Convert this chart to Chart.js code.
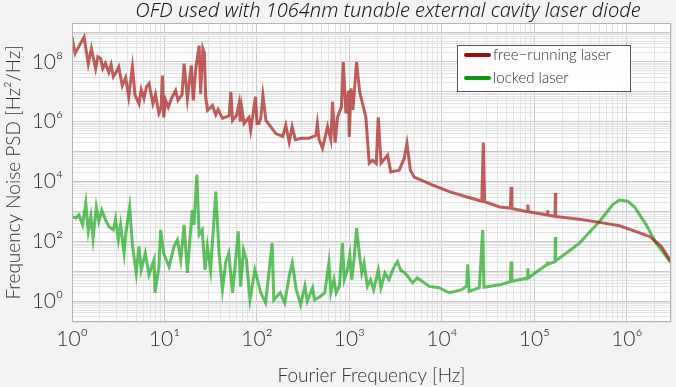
<!doctype html>
<html>

<head>
	<title>OFD frequency noise</title>
	<script src="https://cdn.jsdelivr.net/npm/chart.js@4.4.1/dist/chart.umd.min.js"></script>
	<style>
		html, body { margin: 0; padding: 0; background: #f3f3f3; }
	</style>
</head>

<body>
	<div id="canvas-holder">
		<canvas id="chart-area" width="676" height="387"></canvas>
	</div>

	<script>
		const chartTitle = 'OFD used with 1064nm tunable external cavity laser diode';
		const xTitle = 'Fourier Frequency [Hz]';
		const yTitle = 'Frequency Noise PSD [Hz\u00b2/Hz]';
		const seriesNames = ['free\u2212running laser', 'locked laser'];

		// free-running laser: frequency [Hz] and PSD [Hz^2/Hz]
		const freeFreq = [1, 1.08, 1.2, 1.35, 1.5, 1.62, 1.8, 1.9, 2.04, 2.15,
			2.3, 2.5, 2.65, 2.8, 3.0, 3.2, 3.5, 3.8, 4.1, 4.5,
			4.8, 5.3, 5.6, 6.0, 6.4, 6.8, 7.5, 8.0, 8.7, 9.2,
			9.5, 9.8, 10.3, 11, 12, 13.2, 14, 15.5, 16.3, 17.7,
			19.5, 20.5, 21.8, 23.7, 24.6, 26, 27, 27.9, 29.2, 33,
			35.9, 38, 42.4, 50, 52.2, 54.5, 60, 64, 66, 68,
			72.6, 82, 85.6, 96.5, 100, 105, 110, 116, 125, 140,
			160, 190, 205, 223, 240, 260, 300, 368, 434, 450,
			470, 511, 580, 630, 656, 700, 743, 820, 857, 916,
			980, 995, 1040, 1090, 1195, 1290, 1387, 1505, 1637, 1780,
			1950, 2050, 2200, 2585, 2800, 3460, 3910, 4190, 4560, 5020,
			7960, 12000, 18300, 27000, 28000, 29000, 42000, 55000, 56000, 57000,
			84000, 85000, 86000, 138000, 139000, 140000, 167000, 168700, 170000, 307000,
			505000, 832000, 1.26e6, 1.76e6, 2.35e6, 3e6];
		const freePsd = [6.8e8, 1.9e8, 3.5e8, 6.8e8, 8.7e7, 2.8e8, 5.9e7, 1.5e8, 1.3e8, 6e7,
			9e7, 4.5e7, 8e7, 3.2e7, 4.5e7, 6.8e7, 1.6e7, 3e7, 6.8e6, 6.8e7,
			7.9e6, 4e6, 1.2e7, 6e6, 1.5e7, 1.9e7, 4e6, 8e6, 1.9e6, 3e6,
			3.5e7, 1.4e6, 5.2e6, 3e6, 6.3e6, 1.1e7, 5.2e6, 8e6, 8.7e7, 5.9e6,
			7.6e7, 5.2e6, 5.9e7, 3.5e8, 8.7e6, 2.8e8, 2e8, 6.8e6, 2.4e6, 3.5e6,
			1.7e6, 2.6e6, 1.3e6, 1.6e6, 9.8e6, 1.1e6, 1.6e6, 4e6, 1e6, 3.2e6,
			8.7e5, 1.4e6, 5.2e5, 6.8e6, 8.7e5, 8.7e5, 1.3e6, 7.6e6, 1.1e6, 7e5,
			4e5, 3.2e5, 7.6e5, 2.1e5, 6.8e5, 2.5e5, 2.8e5, 2.8e5, 3.5e5, 8.7e5,
			2.5e5, 1.3e5, 6.8e5, 2.4e5, 4.6e6, 2e5, 1.4e6, 3.2e6, 9.8e7, 1.9e6,
			1.1e7, 3.1e5, 1.3e7, 2.5e6, 9.8e7, 9.8e6, 4e6, 1.4e6, 4.1e4, 5.1e4,
			4e4, 1.4e6, 4.1e4, 7.6e4, 2.1e4, 2.4e4, 5.9e4, 1.9e5, 2.4e4, 1.4e4,
			7.6e3, 4.6e3, 3.1e3, 2.2e3, 2e5, 2.1e3, 1.4e3, 1.3e3, 6.5e3, 1.25e3,
			980, 1.7e3, 975, 760, 1.1e3, 755, 680, 4.1e3, 675, 550,
			430, 330, 210, 145, 68, 21];

		// locked laser
		const lockedFreq = [1, 1.1, 1.19, 1.3, 1.41, 1.5, 1.6, 1.69, 1.83, 1.95,
			2.1, 2.3, 2.51, 2.8, 2.96, 3.17, 3.35, 3.66, 3.8, 4.2,
			4.5, 4.95, 5.3, 5.6, 6.2, 6.8, 7.7, 7.9, 8.7, 9.1,
			9.8, 11.2, 12.7, 13.8, 15, 16.3, 17.7, 18.8, 20, 20.8,
			22.4, 23.7, 25.6, 27.4, 29.1, 31.5, 35.9, 38.9, 42.4, 45.8,
			49.6, 54.5, 62.8, 66.5, 71.5, 77, 84, 95, 110, 124,
			146, 152, 178, 200, 223, 241, 266, 297, 330, 350,
			400, 420, 480, 540, 600, 630, 680, 720, 780, 840,
			880, 950, 1010, 1060, 1120, 1195, 1290, 1360, 1440, 1560,
			1690, 1830, 2050, 2190, 2420, 2670, 3040, 3300, 3570, 4000,
			4820, 5400, 6100, 7300, 9300, 12000, 16500, 18500, 19000, 19700,
			25400, 27600, 28500, 42000, 55000, 56000, 57000, 84000, 85000, 86000,
			138000, 139000, 140000, 167000, 168700, 170000, 307000, 505000, 703000, 832000,
			1.02e6, 1.21e6, 1.62e6, 2.07e6, 3e6];
		const lockedPsd = [680, 600, 760, 355, 1.9e3, 214, 680, 126, 1.4e3, 460,
			1.1e3, 525, 310, 240, 550, 112, 355, 40, 166, 1.4e3,
			76, 8.7, 68, 11, 40, 7.6, 24, 1.9, 14, 240,
			40, 14, 68, 112, 24, 355, 8.7, 112, 1.1e3, 355,
			1.7e4, 166, 240, 11, 68, 11, 4.6e3, 40, 2.4, 19,
			40, 1.9, 214, 3.1, 52, 24, 1.1, 11, 1.9, 0.87,
			87, 1.1, 1.9, 0.87, 6.8, 19, 2.4, 0.76, 3.2, 1,
			2.8, 1.1, 1.4, 1.9, 19, 1.9, 5.2, 1.9, 3.2, 87,
			5.2, 11, 35, 5.2, 24, 275, 31, 8.7, 19, 3.1,
			5.2, 2.4, 11, 2.8, 8.7, 5.2, 14, 21, 11, 8.7,
			4.1, 5.9, 4.6, 3.1, 2.8, 1.9, 2.4, 3.2, 17, 2.1,
			2.8, 240, 2.9, 3.5, 4.5, 21, 4.6, 5.9, 12.6, 6,
			17, 21, 17, 21, 138, 22, 87, 460, 1.7e3, 2.4e3,
			2.2e3, 1.4e3, 355, 87, 19];

		const xRange = [1, 3e6];
		const yRange = [0.2, 2e9];
		const xLabelExps = [0, 1, 2, 3, 4, 5, 6];
		const yLabelExps = [0, 2, 4, 6, 8];

		const SUP = '\u2070\u00b9\u00b2\u00b3\u2074\u2075\u2076\u2077\u2078\u2079';
		const pow10Label = (v) => '10' + String(Math.round(Math.log10(v))).split('').map(d => SUP[+d]).join('');
		const isDecade = (v) => Math.abs(Math.log10(v) - Math.round(Math.log10(v))) < 1e-9;

		function logTicks(min, max) {
			const out = [];
			for (let e = Math.floor(Math.log10(min)); e <= Math.ceil(Math.log10(max)); e++) {
				for (let m = 1; m < 10; m++) {
					const v = m * Math.pow(10, e);
					if (v >= min * 0.999 && v <= max * 1.001) out.push({ value: v });
				}
			}
			return out;
		}

		const FONT = '"Lato", "Open Sans", sans-serif';
		const gridColor = (ctx) => ctx.tick && isDecade(ctx.tick.value) ? '#c9c9c9' : '#e3e3e3';

		const frame = {
			id: 'frame',
			beforeDraw(chart) {
				const { ctx, chartArea: a } = chart;
				ctx.save();
				ctx.fillStyle = '#f3f3f3';
				ctx.fillRect(0, 0, chart.width, chart.height);
				ctx.fillStyle = '#fdfdfd';
				ctx.fillRect(a.left, a.top, a.right - a.left, a.bottom - a.top);
				ctx.restore();
			},
			afterDraw(chart) {
				const { ctx, chartArea: a } = chart;
				ctx.save();
				ctx.strokeStyle = '#b4b4b4';
				ctx.lineWidth = 1;
				ctx.strokeRect(a.left + 0.5, a.top + 0.5, a.right - a.left - 1, a.bottom - a.top - 1);
				// title
				ctx.font = 'italic 300 20px "Noto Sans", sans-serif';
				ctx.fillStyle = '#1a1a1a';
				ctx.textAlign = 'center';
				ctx.textBaseline = 'middle';
				ctx.fillText(chartTitle, 388, 11);
				// legend
				const bx = 457, by = 45, bw = 173, bh = 46;
				ctx.fillStyle = 'rgba(255,255,255,0.9)';
				ctx.fillRect(bx, by, bw, bh);
				ctx.strokeStyle = '#555';
				ctx.strokeRect(bx + 0.5, by + 0.5, bw, bh);
				ctx.font = '300 15px ' + FONT;
				ctx.textAlign = 'left';
				chart.data.datasets.forEach((ds, i) => {
					const y = by + 10 + i * 23;
					ctx.strokeStyle = ds.legendColor;
					ctx.lineWidth = 4;
					ctx.lineCap = 'round';
					ctx.beginPath();
					ctx.moveTo(bx + 9, y);
					ctx.lineTo(bx + 32, y);
					ctx.stroke();
					ctx.fillStyle = '#333';
					ctx.fillText(ds.label, bx + 36, y);
				});
				ctx.restore();
			}
		};

		const ctx2d = document.getElementById('chart-area').getContext('2d');
		window.psdChart = new Chart(ctx2d, {
			type: 'line',
			data: {
				datasets: [{
					label: seriesNames[0],
					data: freeFreq.map((f, i) => ({ x: f, y: freePsd[i] })),
					borderColor: 'rgba(165,20,20,0.68)',
					legendColor: '#a00a0a',
					borderWidth: 3,
					pointRadius: 0,
					tension: 0
				}, {
					label: seriesNames[1],
					data: lockedFreq.map((f, i) => ({ x: f, y: lockedPsd[i] })),
					borderColor: 'rgba(20,165,20,0.68)',
					legendColor: '#0a9a0a',
					borderWidth: 3,
					pointRadius: 0,
					tension: 0
				}]
			},
			plugins: [frame],
			options: {
				responsive: false,
				animation: false,
				layout: { padding: { top: 23, right: 5, left: 0, bottom: 0 } },
				plugins: {
					legend: { display: false },
					tooltip: { enabled: false }
				},
				scales: {
					x: {
						type: 'logarithmic',
						min: xRange[0],
						max: xRange[1],
						afterBuildTicks(scale) { scale.ticks = logTicks(xRange[0], xRange[1]); },
						afterFit(scale) { scale.height = 65; },
						grid: { color: gridColor, drawTicks: false },
						border: { display: false },
						ticks: {
							autoSkip: false,
							maxRotation: 0,
							padding: 5,
							color: '#333',
							font: { family: FONT, size: 21, weight: 300 },
							callback(v) {
								return isDecade(v) && xLabelExps.includes(Math.round(Math.log10(v))) ? pow10Label(v) : '';
							}
						},
						title: {
							display: true,
							text: xTitle,
							color: '#333',
							font: { family: FONT, size: 19, weight: 300 },
							padding: { top: 4, bottom: 0 }
						}
					},
					y: {
						type: 'logarithmic',
						min: yRange[0],
						max: yRange[1],
						afterBuildTicks(scale) { scale.ticks = logTicks(yRange[0], yRange[1]); },
						afterFit(scale) { scale.width = 72; },
						grid: { color: gridColor, drawTicks: false },
						border: { display: false },
						ticks: {
							autoSkip: false,
							padding: 9,
							color: '#333',
							font: { family: FONT, size: 21, weight: 300 },
							callback(v) {
								return isDecade(v) && yLabelExps.includes(Math.round(Math.log10(v))) ? pow10Label(v) : '';
							}
						},
						title: {
							display: true,
							text: yTitle,
							color: '#333',
							font: { family: FONT, size: 19, weight: 300 },
							padding: { top: 2, bottom: 0 }
						}
					}
				}
			}
		});
	</script>
</body>

</html>
